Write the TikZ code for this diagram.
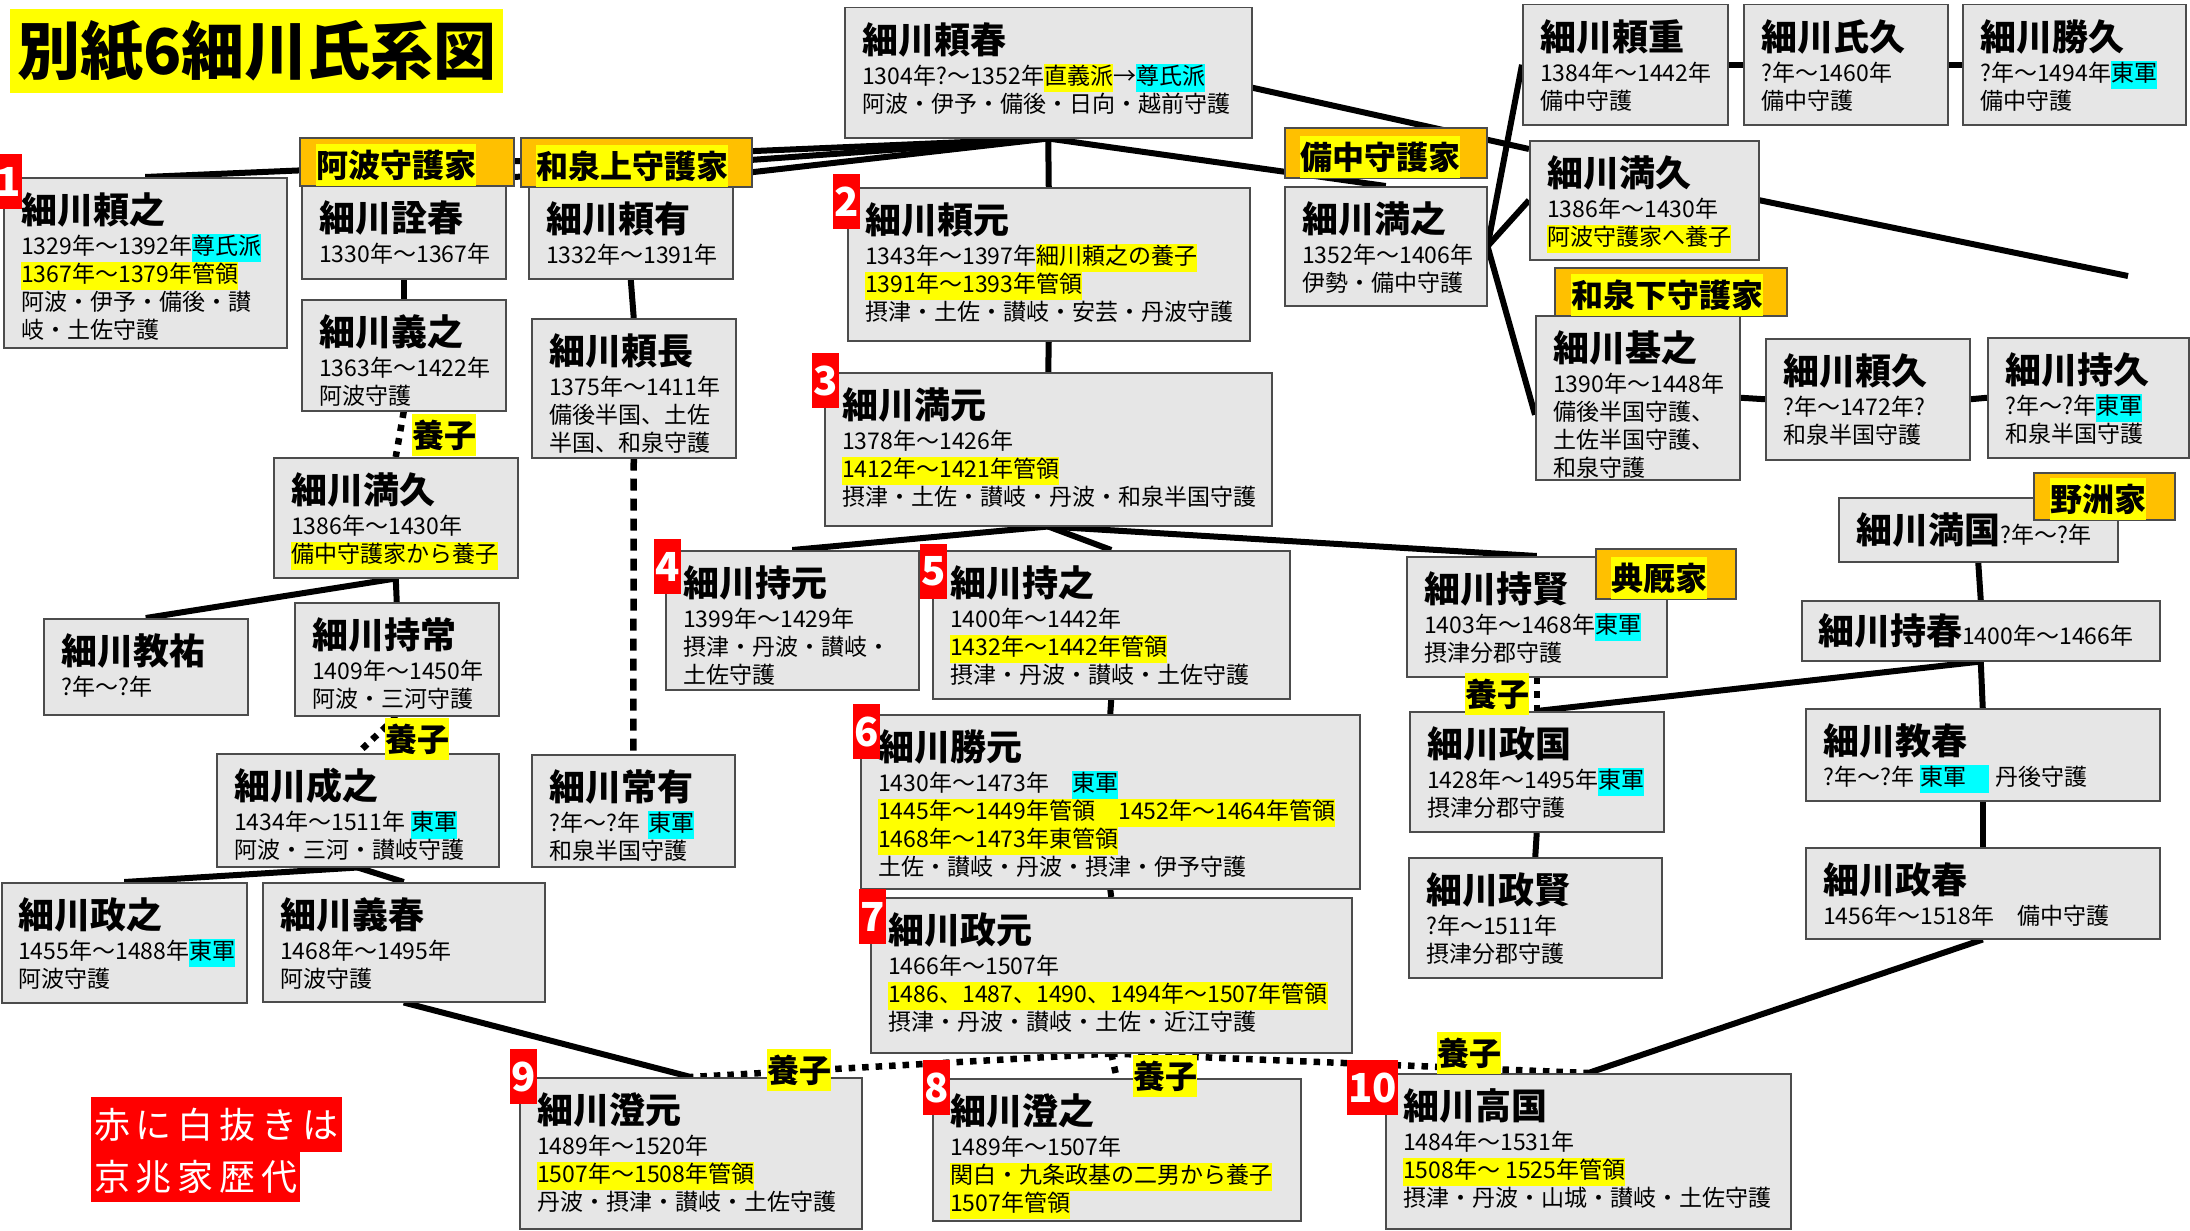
\documentclass[tikz,border=0pt]{standalone}
\usepackage{fontspec}
\setmainfont{Noto Sans CJK JP}
\definecolor{myYellow}{RGB}{255,255,0}
\definecolor{myCyan}{RGB}{0,255,255}
\definecolor{myOrange}{RGB}{255,192,0}
\definecolor{myGray}{RGB}{230,230,230}
\definecolor{myRed}{RGB}{255,0,0}
\pgfdeclarelayer{bg}
\pgfsetlayers{bg,main}
\newcommand{\nmfont}{\bfseries\fontsize{36}{40}\selectfont}
\newcommand{\hly}[1]{{\setlength{\fboxsep}{0pt}\colorbox{myYellow}{\strut #1}}}
\newcommand{\hlc}[1]{{\setlength{\fboxsep}{0pt}\colorbox{myCyan}{\strut #1}}}

\begin{document}
\begin{tikzpicture}[x=1pt,y=-1pt,
	person/.style={draw=black!70,line width=1.5pt,fill=myGray,anchor=north west,inner sep=0pt},
	info/.style={anchor=north west,align=left,inner sep=0pt,font=\fontsize{23}{28}\selectfont},
	house/.style={draw=black!70,line width=1.5pt,fill=myOrange,anchor=north west,inner sep=0pt},
	hltag/.style={fill=myYellow,inner sep=0pt,minimum height=42pt,font=\bfseries\fontsize{32}{36}\selectfont},
	numbox/.style={fill=myRed,text=white,anchor=north west,inner xsep=1pt,inner ysep=0pt,minimum width=25pt,minimum height=55pt,font=\bfseries\fontsize{40}{40}\selectfont},
	legend/.style={fill=myRed,text=white,anchor=north west,inner xsep=3pt,inner ysep=0pt,font=\fontsize{36}{40}\selectfont\addfontfeature{LetterSpace=16}},
	kin/.style={line width=6pt},
	adopt/.style={line width=6.5pt,dash pattern=on 6.5pt off 7pt},
	collat/.style={line width=6.5pt,dash pattern=on 12pt off 8pt}]
	\useasboundingbox (0,0) rectangle (2190,1231);

	\node[fill=myYellow,anchor=north west,minimum width=493pt,minimum height=84pt,inner sep=0pt,font=\bfseries\fontsize{63}{63}\selectfont] (title) at (10,9) {別紙6細川氏系図};

	\node[person,minimum width=407pt,minimum height=130pt] (yoriharu) at (844,7) {};
	\node[info] (yoriharu-t) at ([xshift=18pt,yshift=-15pt]yoriharu.north west) {{\nmfont 細川頼春}\\[3pt]1304年?～1352年\hly{直義派}→\hlc{尊氏派}\\阿波・伊予・備後・日向・越前守護};

	\node[person,minimum width=283pt,minimum height=170pt] (yoriyuki) at (3,177) {};
	\node[info] (yoriyuki-t) at ([xshift=18pt,yshift=-15pt]yoriyuki.north west) {{\nmfont 細川頼之}\\[3pt]1329年～1392年\hlc{尊氏派}\\\hly{1367年～1379年管領}\\阿波・伊予・備後・讃\\岐・土佐守護};

	\node[person,minimum width=204pt,minimum height=93pt] (akiharu) at (301,185) {};
	\node[info] (akiharu-t) at ([xshift=18pt,yshift=-15pt]akiharu.north west) {{\nmfont 細川詮春}\\[3pt]1330年～1367年};

	\node[person,minimum width=204pt,minimum height=111pt] (yoshiyuki) at (301,299) {};
	\node[info] (yoshiyuki-t) at ([xshift=18pt,yshift=-15pt]yoshiyuki.north west) {{\nmfont 細川義之}\\[3pt]1363年～1422年\\阿波守護};

	\node[person,minimum width=204pt,minimum height=92pt] (yoriari) at (528,186) {};
	\node[info] (yoriari-t) at ([xshift=18pt,yshift=-15pt]yoriari.north west) {{\nmfont 細川頼有}\\[3pt]1332年～1391年};

	\node[person,minimum width=204pt,minimum height=139pt] (yorinaga) at (531,318) {};
	\node[info] (yorinaga-t) at ([xshift=18pt,yshift=-15pt]yorinaga.north west) {{\nmfont 細川頼長}\\[3pt]1375年～1411年\\備後半国、土佐\\半国、和泉守護};

	\node[person,minimum width=402pt,minimum height=153pt] (yorimoto) at (847,187) {};
	\node[info] (yorimoto-t) at ([xshift=18pt,yshift=-15pt]yorimoto.north west) {{\nmfont 細川頼元}\\[3pt]1343年～1397年\hly{細川頼之の養子}\\\hly{1391年～1393年管領}\\摂津・土佐・讃岐・安芸・丹波守護};

	\node[person,minimum width=447pt,minimum height=153pt] (mitsumoto) at (824,372) {};
	\node[info] (mitsumoto-t) at ([xshift=18pt,yshift=-15pt]mitsumoto.north west) {{\nmfont 細川満元}\\[3pt]1378年～1426年\\\hly{1412年～1421年管領}\\摂津・土佐・讃岐・丹波・和泉半国守護};

	\node[person,minimum width=202pt,minimum height=119pt] (mitsuyuki) at (1284,186) {};
	\node[info] (mitsuyuki-t) at ([xshift=18pt,yshift=-15pt]mitsuyuki.north west) {{\nmfont 細川満之}\\[3pt]1352年～1406年\\伊勢・備中守護};

	\node[person,minimum width=205pt,minimum height=120pt] (yorishige) at (1522,4) {};
	\node[info] (yorishige-t) at ([xshift=18pt,yshift=-15pt]yorishige.north west) {{\nmfont 細川頼重}\\[3pt]1384年～1442年\\備中守護};

	\node[person,minimum width=204pt,minimum height=120pt] (ujihisa) at (1743,4) {};
	\node[info] (ujihisa-t) at ([xshift=18pt,yshift=-15pt]ujihisa.north west) {{\nmfont 細川氏久}\\[3pt]?年～1460年\\備中守護};

	\node[person,minimum width=223pt,minimum height=120pt] (katsuhisa) at (1962,4) {};
	\node[info] (katsuhisa-t) at ([xshift=18pt,yshift=-15pt]katsuhisa.north west) {{\nmfont 細川勝久}\\[3pt]?年～1494年\hlc{東軍}\\備中守護};

	\node[person,minimum width=229pt,minimum height=119pt] (mitsuhisaB) at (1529,140) {};
	\node[info] (mitsuhisaB-t) at ([xshift=18pt,yshift=-15pt]mitsuhisaB.north west) {{\nmfont 細川満久}\\[3pt]1386年～1430年\\\hly{阿波守護家へ養子}};

	\node[person,minimum width=204pt,minimum height=164pt] (motoyuki) at (1535,315) {};
	\node[info] (motoyuki-t) at ([xshift=18pt,yshift=-15pt]motoyuki.north west) {{\nmfont 細川基之}\\[3pt]1390年～1448年\\備後半国守護、\\土佐半国守護、\\和泉守護};

	\node[person,minimum width=204pt,minimum height=121pt] (yorihisa) at (1765,338) {};
	\node[info] (yorihisa-t) at ([xshift=18pt,yshift=-15pt]yorihisa.north west) {{\nmfont 細川頼久}\\[3pt]?年～1472年?\\和泉半国守護};

	\node[person,minimum width=201pt,minimum height=120pt] (mochihisa) at (1987,337) {};
	\node[info] (mochihisa-t) at ([xshift=18pt,yshift=-15pt]mochihisa.north west) {{\nmfont 細川持久}\\[3pt]?年～?年\hlc{東軍}\\和泉半国守護};

	\node[person,minimum width=244pt,minimum height=120pt] (mitsuhisaA) at (273,457) {};
	\node[info] (mitsuhisaA-t) at ([xshift=18pt,yshift=-15pt]mitsuhisaA.north west) {{\nmfont 細川満久}\\[3pt]1386年～1430年\\\hly{備中守護家から養子}};

	\node[person,minimum width=204pt,minimum height=96pt] (noriyasu) at (43,618) {};
	\node[info] (noriyasu-t) at ([xshift=18pt,yshift=-15pt]noriyasu.north west) {{\nmfont 細川教祐}\\[3pt]?年～?年};

	\node[person,minimum width=204pt,minimum height=113pt] (mochitsune) at (294,602) {};
	\node[info] (mochitsune-t) at ([xshift=18pt,yshift=-15pt]mochitsune.north west) {{\nmfont 細川持常}\\[3pt]1409年～1450年\\阿波・三河守護};

	\node[person,minimum width=282pt,minimum height=113pt] (shigeyuki) at (216,753) {};
	\node[info] (shigeyuki-t) at ([xshift=18pt,yshift=-15pt]shigeyuki.north west) {{\nmfont 細川成之}\\[3pt]1434年～1511年\hspace{6pt}\hlc{東軍}\\阿波・三河・讃岐守護};

	\node[person,minimum width=245pt,minimum height=120pt] (masayuki) at (1,882) {};
	\node[info] (masayuki-t) at ([xshift=17pt,yshift=-15pt]masayuki.north west) {{\nmfont 細川政之}\\[3pt]1455年～1488年\hlc{東軍}\\阿波守護};

	\node[person,minimum width=282pt,minimum height=119pt] (yoshiharu) at (262,882) {};
	\node[info] (yoshiharu-t) at ([xshift=18pt,yshift=-15pt]yoshiharu.north west) {{\nmfont 細川義春}\\[3pt]1468年～1495年\\阿波守護};

	\node[person,minimum width=203pt,minimum height=112pt] (tsuneari) at (531,754) {};
	\node[info] (tsuneari-t) at ([xshift=18pt,yshift=-15pt]tsuneari.north west) {{\nmfont 細川常有}\\[3pt]?年～?年\hspace{8pt}\hlc{東軍}\\和泉半国守護};

	\node[person,minimum width=253pt,minimum height=139pt] (mochimoto) at (665,550) {};
	\node[info] (mochimoto-t) at ([xshift=18pt,yshift=-15pt]mochimoto.north west) {{\nmfont 細川持元}\\[3pt]1399年～1429年\\摂津・丹波・讃岐・\\土佐守護};

	\node[person,minimum width=357pt,minimum height=148pt] (mochiyuki) at (932,550) {};
	\node[info] (mochiyuki-t) at ([xshift=18pt,yshift=-15pt]mochiyuki.north west) {{\nmfont 細川持之}\\[3pt]1400年～1442年\\\hly{1432年～1442年管領}\\摂津・丹波・讃岐・土佐守護};

	\node[person,minimum width=499pt,minimum height=174pt] (katsumoto) at (860,714) {};
	\node[info] (katsumoto-t) at ([xshift=18pt,yshift=-15pt]katsumoto.north west) {{\nmfont 細川勝元}\\[3pt]1430年～1473年　\hlc{東軍}\\\hly{1445年～1449年管領　1452年～1464年管領}\\\hly{1468年～1473年東管領}\\土佐・讃岐・丹波・摂津・伊予守護};

	\node[person,minimum width=481pt,minimum height=155pt] (masamoto) at (870,897) {};
	\node[info] (masamoto-t) at ([xshift=18pt,yshift=-15pt]masamoto.north west) {{\nmfont 細川政元}\\[3pt]1466年～1507年\\\hly{1486、1487、1490、1494年～1507年管領}\\摂津・丹波・讃岐・土佐・近江守護};

	\node[person,minimum width=260pt,minimum height=120pt] (mochikata) at (1406,556) {};
	\node[info] (mochikata-t) at ([xshift=18pt,yshift=-15pt]mochikata.north west) {{\nmfont 細川持賢}\\[3pt]1403年～1468年\hlc{東軍}\\摂津分郡守護};

	\node[person,minimum width=254pt,minimum height=120pt] (masakuni) at (1409,711) {};
	\node[info] (masakuni-t) at ([xshift=18pt,yshift=-15pt]masakuni.north west) {{\nmfont 細川政国}\\[3pt]1428年～1495年\hlc{東軍}\\摂津分郡守護};

	\node[person,minimum width=253pt,minimum height=120pt] (masakata) at (1408,857) {};
	\node[info] (masakata-t) at ([xshift=18pt,yshift=-15pt]masakata.north west) {{\nmfont 細川政賢}\\[3pt]?年～1511年\\摂津分郡守護};

	\node[person,minimum width=279pt,minimum height=64pt] (mitsukuni) at (1838,497) {};
	\node[info,anchor=west] (mitsukuni-t) at ([xshift=18pt]mitsukuni.west) {{\nmfont 細川満国}?年～?年};

	\node[person,minimum width=358pt,minimum height=60pt] (mochiharu) at (1801,600) {};
	\node[info,anchor=west] (mochiharu-t) at ([xshift=17pt]mochiharu.west) {{\nmfont 細川持春}1400年～1466年};

	\node[person,minimum width=354pt,minimum height=92pt] (noriharu) at (1805,708) {};
	\node[info] (noriharu-t) at ([xshift=18pt,yshift=-15pt]noriharu.north west) {{\nmfont 細川教春}\\[3pt]?年～?年\hspace{6pt}\hlc{東軍\hspace{23pt}}\hspace{6pt}丹後守護};

	\node[person,minimum width=354pt,minimum height=91pt] (masaharu) at (1805,847) {};
	\node[info] (masaharu-t) at ([xshift=18pt,yshift=-15pt]masaharu.north west) {{\nmfont 細川政春}\\[3pt]1456年～1518年　備中守護};

	\node[person,minimum width=342pt,minimum height=151pt] (sumimoto) at (519,1077) {};
	\node[info] (sumimoto-t) at ([xshift=18pt,yshift=-15pt]sumimoto.north west) {{\nmfont 細川澄元}\\[3pt]1489年～1520年\\\hly{1507年～1508年管領}\\丹波・摂津・讃岐・土佐守護};

	\node[person,minimum width=368pt,minimum height=142pt] (sumiyuki) at (932,1078) {};
	\node[info] (sumiyuki-t) at ([xshift=18pt,yshift=-15pt]sumiyuki.north west) {{\nmfont 細川澄之}\\[3pt]1489年～1507年\\\hly{関白・九条政基の二男から養子}\\\hly{1507年管領}};

	\node[person,minimum width=405pt,minimum height=155pt] (takakuni) at (1385,1073) {};
	\node[info] (takakuni-t) at ([xshift=18pt,yshift=-15pt]takakuni.north west) {{\nmfont 細川高国}\\[3pt]1484年～1531年\\\hly{1508年～ 1525年管領}\\摂津・丹波・山城・讃岐・土佐守護};

	\node[house,minimum width=214pt,minimum height=48pt] (awaHouse) at (299,137) {};
	\node[hltag,anchor=south west] (awaHouse-t) at ([xshift=17pt]awaHouse.south west) {阿波守護家};
	\node[house,minimum width=231pt,minimum height=49pt] (izumiKHouse) at (520,137) {};
	\node[hltag,anchor=south west] (izumiKHouse-t) at ([xshift=16pt]izumiKHouse.south west) {和泉上守護家};
	\node[house,minimum width=202pt,minimum height=50pt] (bitchuHouse) at (1284,127) {};
	\node[hltag,anchor=south west] (bitchuHouse-t) at ([xshift=16pt]bitchuHouse.south west) {備中守護家};
	\node[house,minimum width=232pt,minimum height=48pt] (izumiSHouse) at (1554,267) {};
	\node[hltag,anchor=south west] (izumiSHouse-t) at ([xshift=17pt]izumiSHouse.south west) {和泉下守護家};
	\node[house,minimum width=140pt,minimum height=50pt] (tenkyuHouse) at (1595,548) {};
	\node[hltag,anchor=south west] (tenkyuHouse-t) at ([xshift=16pt]tenkyuHouse.south west) {典厩家};
	\node[house,minimum width=141pt,minimum height=47pt] (yasuHouse) at (2033,472) {};
	\node[hltag,anchor=south west] (yasuHouse-t) at ([xshift=17pt]yasuHouse.south west) {野洲家};

	\node[hltag,anchor=north west] (adoptA) at (412,414) {養子};
	\node[hltag,anchor=north west] (adoptB) at (385,718) {養子};
	\node[hltag,anchor=north west] (adoptC) at (1465,673) {養子};
	\node[hltag,anchor=north west] (adoptD) at (767,1049) {養子};
	\node[hltag,anchor=north west] (adoptE) at (1133,1055) {養子};
	\node[hltag,anchor=north west] (adoptF) at (1437,1032) {養子};

	\node[numbox] (num1) at (-5,154) {1};
	\node[numbox] (num2) at (833,174) {2};
	\node[numbox] (num3) at (812,353) {3};
	\node[numbox] (num4) at (654,539) {4};
	\node[numbox] (num5) at (920,544) {5};
	\node[numbox] (num6) at (853,704) {6};
	\node[numbox] (num7) at (859,889) {7};
	\node[numbox] (num8) at (923,1060) {8};
	\node[numbox] (num9) at (510,1049) {9};
	\node[numbox,minimum width=49pt] (num10) at (1347,1060) {10};

	\node[legend,minimum height=55pt] (legendA) at (91,1097) {赤に白抜きは};
	\node[legend,minimum height=50pt] (legendB) at (91,1152) {京兆家歴代};

	\coordinate (mitsuhisaB-end) at (2128,276);

	\begin{pgfonlayer}{bg}
		\fill[white] (0,0) rectangle (2190,1231);
		\draw[kin] (yoriharu.south) -- (yoriyuki.north);
		\draw[kin] (yoriharu.south) -- (akiharu.north);
		\draw[kin] (yoriharu.south) -- (yoriari.north);
		\draw[kin] (yoriharu.south) -- (yorimoto.north);
		\draw[kin] (yoriharu.south) -- (mitsuyuki.north);
		\draw[kin] ([yshift=-15pt]yoriharu.east) -- ([yshift=-9pt]mitsuhisaB.north west);
		\draw[kin] (akiharu.south) -- (yoshiyuki.north);
		\draw[kin] (yoriari.south) -- (yorinaga.north);
		\draw[collat] (yorinaga.south) -- (tsuneari.north);
		\draw[adopt] (yoshiyuki.south) -- (mitsuhisaA.north);
		\draw[kin] (mitsuhisaA.south) -- (noriyasu.north);
		\draw[kin] (mitsuhisaA.south) -- (mochitsune.north);
		\draw[adopt] (mochitsune.south) -- (shigeyuki.north);
		\draw[kin] (shigeyuki.south) -- (masayuki.north);
		\draw[kin] (shigeyuki.south) -- (yoshiharu.north);
		\draw[kin] (yoshiharu.south) -- (sumimoto.north);
		\draw[kin] (yorimoto.south) -- (mitsumoto.north);
		\draw[kin] (mitsumoto.south) -- (mochimoto.north);
		\draw[kin] (mitsumoto.south) -- (mochiyuki.north);
		\draw[kin] (mitsumoto.south) -- (mochikata.north);
		\draw[kin] (mochiyuki.south) -- (katsumoto.north);
		\draw[kin] (katsumoto.south) -- (masamoto.north);
		\draw[adopt] (masamoto.south) -- (sumimoto.north);
		\draw[adopt] (masamoto.south) -- (sumiyuki.north);
		\draw[adopt] (masamoto.south) -- (takakuni.north);
		\draw[kin] (mitsuyuki.east) -- (yorishige.west);
		\draw[kin] (mitsuyuki.east) -- (mitsuhisaB.west);
		\draw[kin] (mitsuyuki.east) -- ([yshift=-17pt]motoyuki.west);
		\draw[kin] (yorishige.east) -- (ujihisa.west);
		\draw[kin] (ujihisa.east) -- (katsuhisa.west);
		\draw[kin] (mitsuhisaB.east) -- (mitsuhisaB-end);
		\draw[kin] (motoyuki.east) -- (yorihisa.west);
		\draw[kin] (yorihisa.east) -- (mochihisa.west);
		\draw[adopt] (mochikata.south) -- (masakuni.north);
		\draw[kin] (masakuni.south) -- (masakata.north);
		\draw[kin] (mitsukuni.south) -- (mochiharu.north);
		\draw[kin] (mochiharu.south) -- (noriharu.north);
		\draw[kin] (mochiharu.south) -- (masakuni.north);
		\draw[kin] (noriharu.south) -- (masaharu.north);
		\draw[kin] (masaharu.south) -- (takakuni.north);
	\end{pgfonlayer}
\end{tikzpicture}
\end{document}
